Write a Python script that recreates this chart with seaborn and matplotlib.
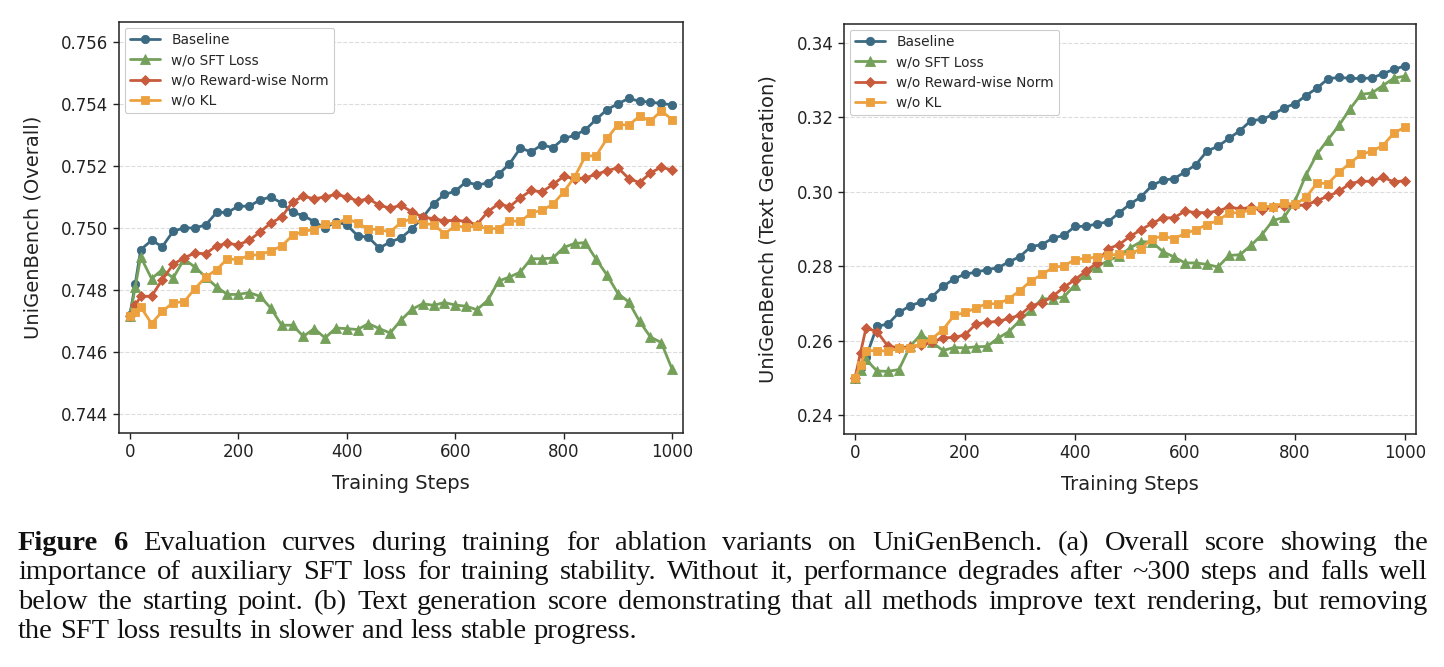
import matplotlib
matplotlib.use("Agg")
import matplotlib.pyplot as plt
import seaborn as sns
import pandas as pd

# ---------------- data ----------------
steps = [0, 10, 20, 40, 60, 80, 100, 120, 140, 160, 180, 200, 220, 240, 260, 280, 300,
         320, 340, 360, 380, 400, 420, 440, 460, 480, 500, 520, 540, 560, 580, 600,
         620, 640, 660, 680, 700, 720, 740, 760, 780, 800, 820, 840, 860, 880, 900,
         920, 940, 960, 980, 1000]

series_names = ["Baseline", "w/o SFT Loss", "w/o Reward-wise Norm", "w/o KL"]

overall_baseline = [0.7472, 0.7482, 0.7493, 0.7496, 0.7494, 0.7499, 0.7500, 0.7500, 0.7501,
                    0.7505, 0.7505, 0.7507, 0.7507, 0.7509, 0.7510, 0.7508, 0.7505, 0.7504,
                    0.7502, 0.7500, 0.7502, 0.7501, 0.74975, 0.7497, 0.74935, 0.74955,
                    0.74968, 0.74997, 0.75034, 0.75078, 0.75108, 0.75118, 0.75149, 0.75138,
                    0.75145, 0.75173, 0.75206, 0.75257, 0.75245, 0.75268, 0.75258, 0.75288,
                    0.75298, 0.75316, 0.75350, 0.75381, 0.75400, 0.75417, 0.75408, 0.75405,
                    0.75401, 0.75396]
overall_no_sft = [0.74716, 0.74810, 0.74907, 0.74837, 0.74866, 0.74839, 0.74900, 0.74874,
                  0.74842, 0.74810, 0.74786, 0.74786, 0.74792, 0.74780, 0.74742, 0.74687,
                  0.74687, 0.74651, 0.74676, 0.74646, 0.74678, 0.74676, 0.74673, 0.74692,
                  0.74676, 0.74662, 0.74703, 0.74738, 0.74756, 0.74751, 0.74760, 0.74752,
                  0.74748, 0.74737, 0.74767, 0.74829, 0.74842, 0.74858, 0.74901, 0.74901,
                  0.74903, 0.74937, 0.74950, 0.74953, 0.74899, 0.74848, 0.74789, 0.74762,
                  0.74699, 0.74649, 0.74631, 0.74545]
overall_no_norm = [0.74716, 0.74751, 0.74780, 0.74780, 0.74834, 0.74883, 0.74904, 0.74919,
                   0.74917, 0.74943, 0.74950, 0.74946, 0.74960, 0.74987, 0.75016, 0.75035,
                   0.75084, 0.75102, 0.75094, 0.75100, 0.75108, 0.75100, 0.75087, 0.75094,
                   0.75073, 0.75064, 0.75073, 0.75052, 0.75035, 0.75030, 0.75023, 0.75025,
                   0.75021, 0.75011, 0.75052, 0.75078, 0.75068, 0.75097, 0.75121, 0.75116,
                   0.75140, 0.75166, 0.75159, 0.75161, 0.75173, 0.75184, 0.75194, 0.75159,
                   0.75146, 0.75177, 0.75196, 0.75186]
overall_no_kl = [0.74716, 0.74729, 0.74746, 0.74692, 0.74732, 0.74760, 0.74762, 0.74805,
                 0.74842, 0.74866, 0.74901, 0.74898, 0.74912, 0.74914, 0.74926, 0.74942,
                 0.74976, 0.74989, 0.74995, 0.75014, 0.75014, 0.75030, 0.75016, 0.74996,
                 0.74995, 0.74987, 0.75018, 0.75030, 0.75014, 0.75011, 0.74982, 0.75006,
                 0.75003, 0.75005, 0.74998, 0.74998, 0.75023, 0.75021, 0.75048, 0.75057,
                 0.75076, 0.75116, 0.75164, 0.75231, 0.75233, 0.75288, 0.75333, 0.75331,
                 0.75360, 0.75344, 0.75377, 0.75349]

text_baseline = [0.2501, 0.2528, 0.2556, 0.2639, 0.2645, 0.2676, 0.2694, 0.2704, 0.2718,
                 0.2746, 0.2766, 0.2779, 0.2784, 0.2791, 0.2796, 0.2812, 0.2826, 0.2853,
                 0.2858, 0.2876, 0.2883, 0.2907, 0.2907, 0.2914, 0.2919, 0.2943, 0.2967,
                 0.2986, 0.3017, 0.3031, 0.3035, 0.3053, 0.3073, 0.3109, 0.3122, 0.3143,
                 0.3164, 0.3191, 0.3194, 0.3207, 0.3225, 0.3236, 0.3258, 0.3278, 0.3303,
                 0.3307, 0.3304, 0.3304, 0.3305, 0.3317, 0.3328, 0.3338]
text_no_sft = [0.2501, 0.2523, 0.2550, 0.2519, 0.2518, 0.2523, 0.2585, 0.2617, 0.2596,
               0.2574, 0.2582, 0.2581, 0.2584, 0.2585, 0.2607, 0.2625, 0.2655, 0.2682,
               0.2713, 0.2712, 0.2718, 0.2750, 0.2780, 0.2799, 0.2815, 0.2827, 0.2849,
               0.2866, 0.2865, 0.2839, 0.2825, 0.2809, 0.2809, 0.2805, 0.2798, 0.2829,
               0.2831, 0.2856, 0.2885, 0.2923, 0.2931, 0.2975, 0.3045, 0.3101, 0.3140,
               0.3178, 0.3222, 0.3261, 0.3265, 0.3285, 0.3305, 0.3310]
text_no_norm = [0.2501, 0.2568, 0.2634, 0.2625, 0.2585, 0.2582, 0.2584, 0.2588, 0.2596,
                0.2608, 0.2609, 0.2616, 0.2645, 0.2650, 0.2652, 0.2660, 0.2669, 0.2694,
                0.2702, 0.2720, 0.2744, 0.2764, 0.2787, 0.2809, 0.2847, 0.2858, 0.2880,
                0.2898, 0.2915, 0.2930, 0.2930, 0.2948, 0.2944, 0.2944, 0.2948, 0.2959,
                0.2954, 0.2958, 0.2950, 0.2960, 0.2963, 0.2964, 0.2964, 0.2976, 0.2988,
                0.3001, 0.3022, 0.3028, 0.3028, 0.3039, 0.3026, 0.3030]
text_no_kl = [0.2501, 0.2536, 0.2573, 0.2574, 0.2572, 0.2580, 0.2580, 0.2593, 0.2606,
              0.2630, 0.2668, 0.2676, 0.2688, 0.2700, 0.2699, 0.2713, 0.2735, 0.2761,
              0.2778, 0.2797, 0.2801, 0.2818, 0.2821, 0.2825, 0.2830, 0.2832, 0.2833,
              0.2847, 0.2874, 0.2881, 0.2874, 0.2888, 0.2898, 0.2912, 0.2923, 0.2943,
              0.2944, 0.2951, 0.2961, 0.2960, 0.2970, 0.2966, 0.2985, 0.3023, 0.3022,
              0.3052, 0.3077, 0.3100, 0.3109, 0.3124, 0.3158, 0.3173]

x_ticks = [0, 200, 400, 600, 800, 1000]
overall_ticks = [0.744, 0.746, 0.748, 0.750, 0.752, 0.754, 0.756]
text_ticks = [0.24, 0.26, 0.28, 0.30, 0.32, 0.34]

caption_lines = [
    "Evaluation curves during training for ablation variants on UniGenBench.  (a) Overall score showing the",
    "importance of auxiliary SFT loss for training stability. Without it, performance degrades after ~300 steps and falls well",
    "below the starting point. (b) Text generation score demonstrating that all methods improve text rendering, but removing",
    "the SFT loss results in slower and less stable progress.",
]

# ---------------- style ----------------
colors = ["#3C6A82", "#74A05A", "#C75B3B", "#ECA13E"]
markers = ["o", "^", "D", "s"]
msizes = [6.0, 6.5, 5.0, 5.8]

sns.set_theme(style="ticks")
plt.rcParams["font.family"] = ["DejaVu Sans"]

W, H = 1444, 667
fig = plt.figure(figsize=(W / 100, H / 100), dpi=100)
ax1 = fig.add_axes([119 / W, 1 - 433 / H, 564 / W, 411 / H])
ax2 = fig.add_axes([844 / W, 1 - 434 / H, 572 / W, 410 / H])

panels = [
    (ax1, [overall_baseline, overall_no_sft, overall_no_norm, overall_no_kl],
     "UniGenBench (Overall)", overall_ticks, (0.7434, 0.75663), "{:.3f}", -0.135),
    (ax2, [text_baseline, text_no_sft, text_no_norm, text_no_kl],
     "UniGenBench (Text Generation)", text_ticks, (0.2350, 0.3450), "{:.2f}", -0.117),
]

for ax, vals_list, ylabel, yt, ylim, fmt, lx in panels:
    for name, vals, c, m, ms in zip(series_names, vals_list, colors, markers, msizes):
        df = pd.DataFrame({"step": steps, "score": vals})
        sns.lineplot(data=df, x="step", y="score", ax=ax, color=c, marker=m,
                     markersize=ms, markeredgecolor=c, markeredgewidth=0.6,
                     linewidth=2.0, label=name, zorder=3)
    ax.set_xlim(-20, 1020)
    ax.set_ylim(*ylim)
    ax.set_xticks(x_ticks)
    ax.set_yticks(yt)
    ax.set_yticklabels([fmt.format(v) for v in yt])
    ax.tick_params(axis="both", labelsize=12, length=4, width=1, color="#222222",
                   labelcolor="#222222")
    ax.yaxis.grid(True, linestyle="--", color="#dcdcdc", linewidth=0.8)
    ax.xaxis.grid(False)
    ax.set_axisbelow(True)
    for sp in ax.spines.values():
        sp.set_visible(True)
        sp.set_color("#222222")
        sp.set_linewidth(1.1)
    ax.set_xlabel("Training Steps", fontsize=14, labelpad=9, color="#222222")
    ax.set_ylabel(ylabel, fontsize=14, color="#222222")
    ax.yaxis.set_label_coords(lx, 0.5)
    leg = ax.legend(loc="upper left", fontsize=9.9, frameon=True, fancybox=True,
                    framealpha=1.0, edgecolor="#cccccc", handlelength=2.2,
                    borderaxespad=0.4, labelspacing=0.45)
    leg.get_frame().set_linewidth(0.8)

# ---------------- caption (justified) ----------------
FS = 20.5
FAM = "Liberation Serif"
x_left, x_right = 18, 1428
baselines = [550, 579, 609, 638]
renderer = fig.canvas.get_renderer()


def place_line(words, y_px, justify):
    texts = []
    for w, bold in words:
        t = fig.text(0, 1 - y_px / H, w, fontsize=FS, family=FAM,
                     fontweight="bold" if bold else "normal", va="baseline",
                     ha="left", color="#111111")
        texts.append(t)
    widths = [t.get_window_extent(renderer).width for t in texts]
    if justify and len(texts) > 1:
        gap = (x_right - x_left - sum(widths)) / (len(texts) - 1)
    else:
        gap = 0.26 * FS * 100 / 72
    x = x_left
    for t, w in zip(texts, widths):
        t.set_x(x / W)
        x += w + gap


for i, line in enumerate(caption_lines):
    words = [(w, False) for w in line.split()]
    if i == 0:
        words = [("Figure", True), ("6", True)] + words
    place_line(words, baselines[i], justify=(i < len(caption_lines) - 1))

fig.savefig("out.png", dpi=100)
